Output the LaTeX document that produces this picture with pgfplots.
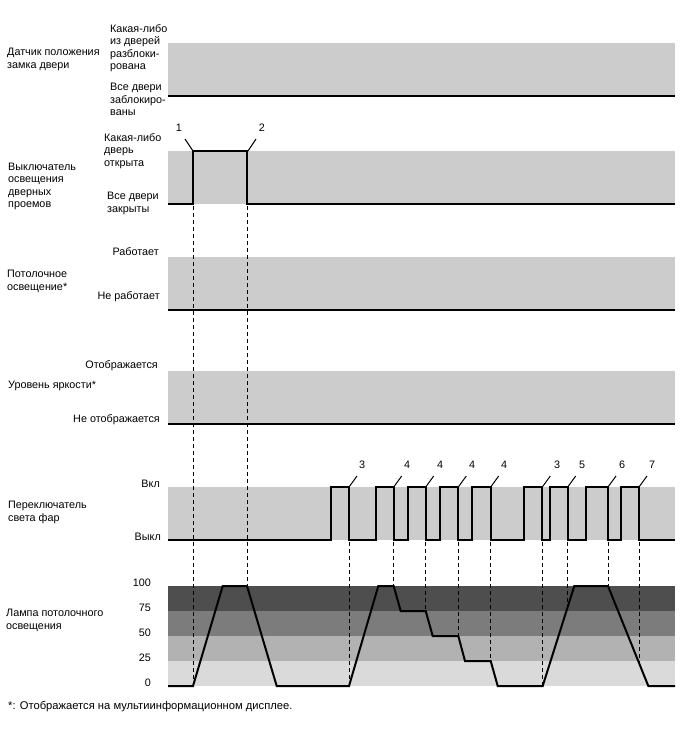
\documentclass[border=0pt]{standalone}
\usepackage{fontspec}
\setmainfont{Liberation Sans}
\usepackage{pgfplots}
\pgfplotsset{compat=1.18}
\definecolor{bandg}{RGB}{204,204,204}
\definecolor{lv1}{RGB}{218,218,218}
\definecolor{lv2}{RGB}{178,178,178}
\definecolor{lv3}{RGB}{124,124,124}
\definecolor{lv4}{RGB}{78,78,78}
\tikzset{lbl/.style={font=\fontsize{10.8}{12.5}\selectfont,inner sep=0pt,align=left}}
\begin{document}
\begin{tikzpicture}
\begin{axis}[width=688pt,height=755pt,scale only axis,
  xmin=0,xmax=688,ymin=0,ymax=755,y dir=reverse,
  axis line style={draw=none},ticks=none,clip=false,
  axis background/.style={fill=white}]
% grey bands of the digital signals
\addplot[draw=none,fill=bandg] coordinates {(168,43)(675,43)(675,96)(168,96)};
\addplot[draw=none,fill=bandg] coordinates {(168,151)(675,151)(675,204)(168,204)};
\addplot[draw=none,fill=bandg] coordinates {(168,257)(675,257)(675,310)(168,310)};
\addplot[draw=none,fill=bandg] coordinates {(168,371)(675,371)(675,424)(168,424)};
\addplot[draw=none,fill=bandg] coordinates {(168,487)(675,487)(675,540)(168,540)};
% lamp level bands
\addplot[draw=none,fill=lv4] coordinates {(168,586)(675,586)(675,611)(168,611)};
\addplot[draw=none,fill=lv3] coordinates {(168,611)(675,611)(675,636)(168,636)};
\addplot[draw=none,fill=lv2] coordinates {(168,636)(675,636)(675,661)(168,661)};
\addplot[draw=none,fill=lv1] coordinates {(168,661)(675,661)(675,686)(168,686)};
% dashed guide lines
\addplot[black,line width=1pt,dash pattern=on 4pt off 3pt] coordinates {(193,206)(193,686)};
\addplot[black,line width=1pt,dash pattern=on 4pt off 3pt] coordinates {(247,206)(247,586)};
\addplot[black,line width=1pt,dash pattern=on 4pt off 3pt] coordinates {(349,542)(349,686)};
\addplot[black,line width=1pt,dash pattern=on 4pt off 3pt] coordinates {(393.7,542)(393.7,586)};
\addplot[black,line width=1pt,dash pattern=on 4pt off 3pt] coordinates {(425.7,542)(425.7,611)};
\addplot[black,line width=1pt,dash pattern=on 4pt off 3pt] coordinates {(458.3,542)(458.3,636)};
\addplot[black,line width=1pt,dash pattern=on 4pt off 3pt] coordinates {(490.7,542)(490.7,661)};
\addplot[black,line width=1pt,dash pattern=on 4pt off 3pt] coordinates {(542.3,542)(542.3,686)};
\addplot[black,line width=1pt,dash pattern=on 4pt off 3pt] coordinates {(567.7,542)(567.7,607)};
\addplot[black,line width=1pt,dash pattern=on 4pt off 3pt] coordinates {(608,542)(608,586)};
\addplot[black,line width=1pt,dash pattern=on 4pt off 3pt] coordinates {(639,542)(639,663)};
% signals
\addplot[black,line width=2pt,const plot] table[x=t,y expr={96-53*\thisrow{s}}] {
t s
168 0
675 0
};
\addplot[black,line width=2pt,const plot] table[x=t,y expr={204-53*\thisrow{s}}] {
t s
168 0
193 1
247 0
675 0
};
\addplot[black,line width=2pt,const plot] table[x=t,y expr={310-53*\thisrow{s}}] {
t s
168 0
675 0
};
\addplot[black,line width=2pt,const plot] table[x=t,y expr={424-53*\thisrow{s}}] {
t s
168 0
675 0
};
\addplot[black,line width=2pt,const plot] table[x=t,y expr={540-53*\thisrow{s}}] {
t s
168 0
331 1
349 0
375.7 1
393.7 0
407.7 1
425.7 0
440.3 1
458.3 0
472.3 1
490.7 0
524 1
542.3 0
549.7 1
567.7 0
586.3 1
608 0
620.7 1
639 0
675 0
};
\addplot[black,line width=2pt] table[x=t,y expr={686-\thisrow{v}}] {
t v
168 0
193 0
222.7 100
247 100
276.7 0
349 0
378.3 100
393.7 100
400.7 75
425.7 75
432.7 50
458.3 50
465 25
490.7 25
497.7 0
542.7 0
574.3 100
608 100
648.3 0
675 0
};
% leader lines
\addplot[black,line width=1pt] coordinates {(185,139)(193,151)};
\addplot[black,line width=1pt] coordinates {(256,139)(248,151)};
\pgfplotsinvokeforeach{349,393.7,425.7,458.3,490.7,542.3,567.7,608,639}{
  \addplot[black,line width=1pt] coordinates {(#1,487)(#1+8,476)};
}
\node[lbl] at (axis cs:179,128) {1};
\node[lbl] at (axis cs:262,128) {2};
\node[lbl] at (axis cs:362,465) {3};
\node[lbl] at (axis cs:407,465) {4};
\node[lbl] at (axis cs:440,465) {4};
\node[lbl] at (axis cs:472,465) {4};
\node[lbl] at (axis cs:504,465) {4};
\node[lbl] at (axis cs:557,465) {3};
\node[lbl] at (axis cs:582,465) {5};
\node[lbl] at (axis cs:622,465) {6};
\node[lbl] at (axis cs:652,465) {7};
% labels panel 1
\node[lbl,anchor=west] at (axis cs:7,59.5) {Датчик положения\\замка двери};
\node[lbl,anchor=west] at (axis cs:110,48) {Какая-либо\\из дверей\\разблоки-\\рована};
\node[lbl,anchor=west] at (axis cs:110,99.5) {Все двери\\заблокиро-\\ваны};
% panel 2
\node[lbl,anchor=west] at (axis cs:8,186.5) {Выключатель\\освещения\\дверных\\проемов};
\node[lbl,anchor=west] at (axis cs:104,151) {Какая-либо\\дверь\\открыта};
\node[lbl,anchor=west] at (axis cs:107,203.5) {Все двери\\закрыты};
% panel 3
\node[lbl,anchor=west] at (axis cs:7,281.5) {Потолочное\\освещение*};
\node[lbl,anchor=east] at (axis cs:159,252) {Работает};
\node[lbl,anchor=east] at (axis cs:160,297) {Не работает};
% panel 4
\node[lbl,anchor=west] at (axis cs:8,386) {Уровень яркости*};
\node[lbl,anchor=east] at (axis cs:158,366) {Отображается};
\node[lbl,anchor=east] at (axis cs:160,420) {Не отображается};
% panel 5
\node[lbl,anchor=west] at (axis cs:8,512.5) {Переключатель\\света фар};
\node[lbl,anchor=east] at (axis cs:160,484) {Вкл};
\node[lbl,anchor=east] at (axis cs:161,537) {Выкл};
% panel 6
\node[lbl,anchor=west] at (axis cs:6,620.5) {Лампа потолочного\\освещения};
\node[lbl,anchor=east] at (axis cs:151,583) {100};
\node[lbl,anchor=east] at (axis cs:151,608) {75};
\node[lbl,anchor=east] at (axis cs:151,633) {50};
\node[lbl,anchor=east] at (axis cs:151,658) {25};
\node[lbl,anchor=east] at (axis cs:151,683) {0};
\node[lbl,anchor=west,font=\fontsize{11.2}{13}\selectfont] at (axis cs:8,707) {*: Отображается на мультиинформационном дисплее.};
\end{axis}
\end{tikzpicture}
\end{document}
